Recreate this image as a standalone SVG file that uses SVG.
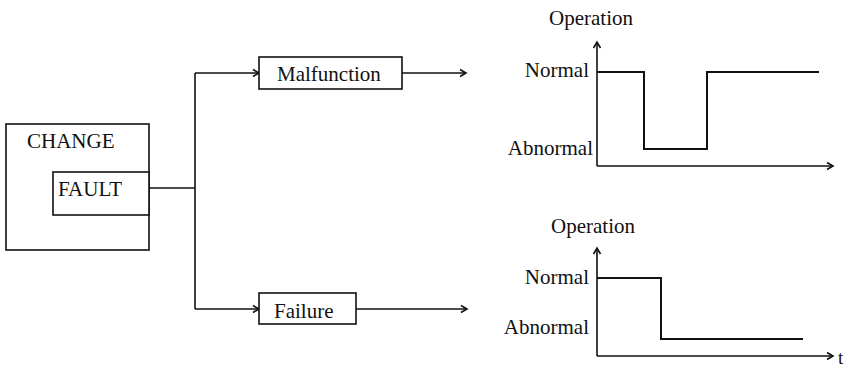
<svg xmlns="http://www.w3.org/2000/svg" width="848" height="369" viewBox="0 0 848 369" font-family="'Liberation Serif', 'DejaVu Serif', 'Times New Roman', serif">
<defs>
<marker id="arr" markerWidth="10" markerHeight="10" refX="8" refY="5" orient="auto" markerUnits="userSpaceOnUse">
<path d="M2,1.5 L8,5 L2,8.5" fill="none" stroke="#111" stroke-width="1.6"/>
</marker>
</defs>
<style>
text{font-family:'Liberation Serif','DejaVu Serif','Times New Roman',serif;font-size:21px;fill:#111}
.box{fill:#fff;stroke:#111;stroke-width:1.6}
.ln{fill:none;stroke:#111;stroke-width:1.6}
.sig{fill:none;stroke:#111;stroke-width:2}
.end{text-anchor:end}
</style>
<rect width="848" height="369" fill="#fff"/>
<g id="change">
<rect class="box" x="6" y="124" width="143" height="126"/>
<text x="27" y="148">CHANGE</text>
</g>
<g id="fault">
<rect class="box" x="53" y="172" width="96" height="43"/>
<text x="58" y="196">FAULT</text>
</g>
<g id="connectors">
<path class="ln" d="M149,188 H195"/>
<path class="ln" d="M195,73 V309"/>
<path class="ln" d="M195,73 H259" marker-end="url(#arr)"/>
<path class="ln" d="M195,309 H259" marker-end="url(#arr)"/>
<path class="ln" d="M402,73 H466" marker-end="url(#arr)"/>
<path class="ln" d="M356,309 H467" marker-end="url(#arr)"/>
</g>
<g id="malfunction">
<rect class="box" x="259" y="57" width="143" height="32"/>
<text x="277" y="81">Malfunction</text>
</g>
<g id="failure">
<rect class="box" x="259" y="293" width="97" height="31"/>
<text x="274" y="318">Failure</text>
</g>
<g id="graph1">
<text x="549" y="25">Operation</text>
<path class="ln" d="M597,166 V42" marker-end="url(#arr)"/>
<path class="ln" d="M597,166 H833" marker-end="url(#arr)"/>
<text class="end" x="589" y="77">Normal</text>
<text class="end" x="593" y="155">Abnormal</text>
<path class="sig" d="M597,72 H644 V149 H707 V72 H819"/>
</g>
<g id="graph2">
<text x="551" y="233">Operation</text>
<path class="ln" d="M597,356 V248" marker-end="url(#arr)"/>
<path class="ln" d="M597,356 H833" marker-end="url(#arr)"/>
<text class="end" x="589" y="284">Normal</text>
<text class="end" x="589" y="334">Abnormal</text>
<path class="sig" d="M597,278 H661 V339 H803"/>
<text x="838" y="364" style="font-size:19px">t</text>
</g>
</svg>
